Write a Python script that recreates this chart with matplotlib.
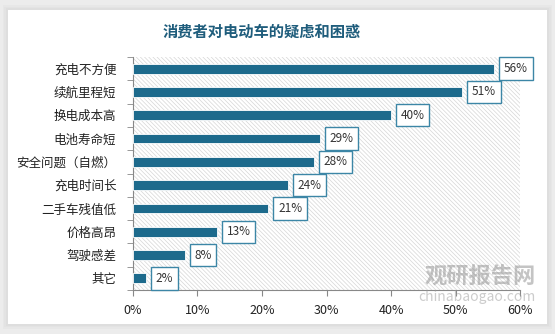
import matplotlib.pyplot as plt
from matplotlib.patches import Rectangle
from matplotlib.ticker import FuncFormatter

plt.rcParams['font.family'] = ['Noto Sans CJK SC', 'DejaVu Sans']
plt.rcParams['hatch.linewidth'] = 0.5

categories = ['充电不方便', '续航里程短', '换电成本高', '电池寿命短', '安全问题（自燃）',
              '充电时间长', '二手车残值低', '价格高昂', '驾驶感差', '其它']
values = [56, 51, 40, 29, 28, 24, 21, 13, 8, 2]
xticks = [0, 10, 20, 30, 40, 50, 60]

barColor = '#1d6a8c'
titleColor = '#1f5d7c'

fig = plt.figure(figsize=(5.55, 3.34), dpi=100)
fig.patch.set_facecolor('#ececec')

# white card with a soft shadow behind it
for i, a in enumerate([0.05, 0.05, 0.06]):
    d = (3 - i) * 0.003
    fig.patches.append(Rectangle((0.014 - d, 0.03 - d * 1.6), 0.972 + 2 * d, 0.94 + 2 * d * 1.6,
                                 transform=fig.transFigure, facecolor='#999999', alpha=a,
                                 edgecolor='none', zorder=-3))
fig.patches.append(Rectangle((0.014, 0.03), 0.972, 0.94, transform=fig.transFigure,
                             facecolor='white', edgecolor='none', zorder=-2))

fig.text(0.472, 0.905, '消费者对电动车的疑虑和困惑', ha='center', va='center',
         fontsize=11, fontweight='bold', color=titleColor)

ax = fig.add_axes([0.2396, 0.1317, 0.6974, 0.6976])
ax.set_zorder(2)
ax.set_facecolor('none')
# hatched plot background (hatch takes the edge colour)
ax.add_patch(Rectangle((0, 0), 1, 1, transform=ax.transAxes, facecolor='white',
                       edgecolor='#d6d6d6', linewidth=0, hatch='\\' * 8, zorder=0))

y = list(range(len(categories)))
ax.barh(y, values, height=0.42, color=barColor, edgecolor='white', linewidth=0.6, zorder=3)

for yi, v in zip(y, values):
    ax.annotate(f'{v}%', xy=(v, yi), xytext=(7, 0), textcoords='offset points',
                ha='left', va='center', fontsize=8.5, color='#333333', zorder=5,
                annotation_clip=False,
                bbox=dict(boxstyle='square,pad=0.4', facecolor='white',
                          edgecolor='#3c86a6', linewidth=1.0))

ax.set_ylim(len(categories) - 0.5, -0.5)
ax.set_xlim(0, 60)
ax.set_yticks(y)
ax.set_yticklabels(categories, fontsize=9, color='#222222')
ax.set_yticks([i + 0.5 for i in range(-1, len(categories))], minor=True)
ax.tick_params(axis='y', which='major', length=0, pad=12)
ax.tick_params(axis='y', which='minor', length=4, color='#888888')
ax.set_xticks(xticks)
ax.xaxis.set_major_formatter(FuncFormatter(lambda v, p: f'{int(v)}%'))
ax.tick_params(axis='x', length=4, color='#888888', labelsize=9, labelcolor='#222222', pad=6)

for s in ['top', 'right']:
    ax.spines[s].set_visible(False)
for s in ['left', 'bottom']:
    ax.spines[s].set_color('#888888')
    ax.spines[s].set_linewidth(0.8)

# watermark
fig.text(0.865, 0.17, '观研报告网', ha='center', va='center', fontsize=16, fontweight='bold',
         color='#8a8a8a', alpha=0.5, zorder=10)
fig.text(0.86, 0.11, 'chinabaogao.com', ha='center', va='center', fontsize=10,
         color='#9a9a9a', alpha=0.5, zorder=10)

fig.savefig('out.png', dpi=100)
